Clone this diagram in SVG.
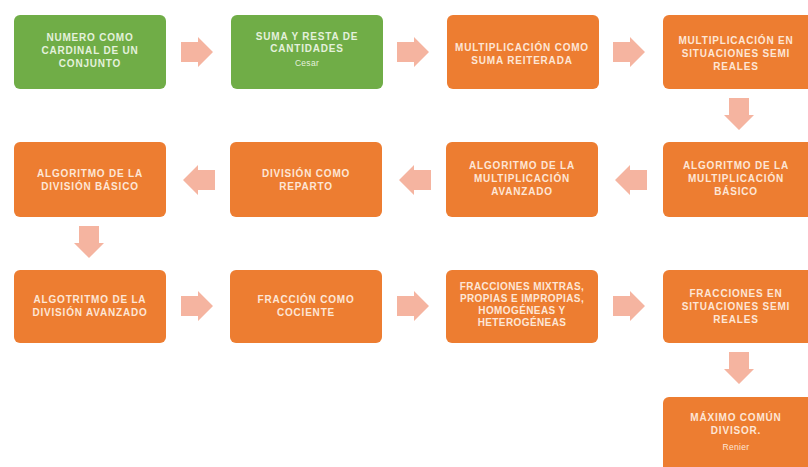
<svg xmlns="http://www.w3.org/2000/svg" width="808" height="467" viewBox="0 0 808 467">
<defs>
<style>
.g{fill:#70ad47}
.o{fill:#ed7d31}
.t{font-family:"Liberation Sans",Arial,sans-serif;font-size:10px;font-weight:700;letter-spacing:0.8px;fill:#fde6d6;text-anchor:middle}
.tg{fill:#e4f1dc}
.s{font-size:8.5px;font-weight:400;letter-spacing:0.3px}
.a{fill:#f5b4a0}
</style>
<path id="ar" d="M-16,-10 H1 V-15 L16,0 L1,15 V10 H-16 Z"/>
</defs>
<rect width="808" height="467" fill="#ffffff"/>
<g id="connectors" class="a">
<use href="#ar" transform="translate(197,52)"/>
<use href="#ar" transform="translate(413,52)"/>
<use href="#ar" transform="translate(629,52)"/>
<use href="#ar" transform="translate(739,114) rotate(90)"/>
<use href="#ar" transform="translate(631,180) rotate(180)"/>
<use href="#ar" transform="translate(415,180) rotate(180)"/>
<use href="#ar" transform="translate(199,180) rotate(180)"/>
<use href="#ar" transform="translate(89,242) rotate(90)"/>
<use href="#ar" transform="translate(197,306)"/>
<use href="#ar" transform="translate(413,306)"/>
<use href="#ar" transform="translate(629,306)"/>
<use href="#ar" transform="translate(739,368) rotate(90)"/>
</g>
<g id="n1"><rect class="g" x="14" y="15" width="152" height="74" rx="6"/>
<text class="t tg"><tspan x="90" y="41">NUMERO COMO</tspan><tspan x="90" y="54">CARDINAL DE UN</tspan><tspan x="90" y="67">CONJUNTO</tspan></text></g>
<g id="n2"><rect class="g" x="231" y="15" width="152" height="74" rx="6"/>
<text class="t tg"><tspan x="307" y="40">SUMA Y RESTA DE</tspan><tspan x="307" y="52">CANTIDADES</tspan><tspan class="s" x="307" y="66">Cesar</tspan></text></g>
<g id="n3"><rect class="o" x="447" y="15" width="152" height="74" rx="6"/>
<text class="t"><tspan x="522" y="51">MULTIPLICACIÓN COMO</tspan><tspan x="522" y="64">SUMA REITERADA</tspan></text></g>
<g id="n4"><rect class="o" x="663" y="15" width="152" height="74" rx="6"/>
<text class="t"><tspan x="736" y="44">MULTIPLICACIÓN EN</tspan><tspan x="736" y="57">SITUACIONES SEMI</tspan><tspan x="736" y="70">REALES</tspan></text></g>
<g id="n5"><rect class="o" x="663" y="142" width="152" height="75" rx="6"/>
<text class="t"><tspan x="736" y="169">ALGORITMO DE LA</tspan><tspan x="736" y="182">MULTIPLICACIÓN</tspan><tspan x="736" y="195">BÁSICO</tspan></text></g>
<g id="n6"><rect class="o" x="446" y="142" width="152" height="75" rx="6"/>
<text class="t"><tspan x="522" y="169">ALGORITMO DE LA</tspan><tspan x="522" y="182">MULTIPLICACIÓN</tspan><tspan x="522" y="195">AVANZADO</tspan></text></g>
<g id="n7"><rect class="o" x="230" y="142" width="152" height="75" rx="6"/>
<text class="t"><tspan x="306" y="177">DIVISIÓN COMO</tspan><tspan x="306" y="190">REPARTO</tspan></text></g>
<g id="n8"><rect class="o" x="14" y="142" width="152" height="75" rx="6"/>
<text class="t"><tspan x="90" y="177">ALGORITMO DE LA</tspan><tspan x="90" y="190">DIVISIÓN BÁSICO</tspan></text></g>
<g id="n9"><rect class="o" x="14" y="270" width="152" height="73" rx="6"/>
<text class="t"><tspan x="90" y="303">ALGOTRITMO DE LA</tspan><tspan x="90" y="316">DIVISIÓN AVANZADO</tspan></text></g>
<g id="n10"><rect class="o" x="230" y="270" width="152" height="73" rx="6"/>
<text class="t"><tspan x="306" y="303">FRACCIÓN COMO</tspan><tspan x="306" y="316">COCIENTE</tspan></text></g>
<g id="n11"><rect class="o" x="446" y="270" width="152" height="73" rx="6"/>
<text class="t" style="letter-spacing:0.4px"><tspan x="522" y="290">FRACCIONES MIXTRAS,</tspan><tspan x="522" y="302">PROPIAS E IMPROPIAS,</tspan><tspan x="522" y="314">HOMOGÉNEAS Y</tspan><tspan x="522" y="326">HETEROGÉNEAS</tspan></text></g>
<g id="n12"><rect class="o" x="663" y="270" width="152" height="73" rx="6"/>
<text class="t"><tspan x="736" y="297">FRACCIONES EN</tspan><tspan x="736" y="310">SITUACIONES SEMI</tspan><tspan x="736" y="323">REALES</tspan></text></g>
<g id="n13"><rect class="o" x="663" y="397" width="152" height="80" rx="6"/>
<text class="t"><tspan x="736" y="421">MÁXIMO COMÚN</tspan><tspan x="736" y="434">DIVISOR.</tspan><tspan class="s" x="736" y="450">Renier</tspan></text></g>
</svg>
